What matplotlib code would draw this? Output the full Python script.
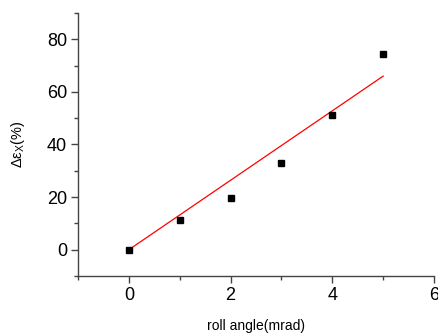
import numpy as np
import matplotlib.pyplot as plt
from matplotlib.ticker import MultipleLocator

# measured points
roll_angle = [0, 1, 2, 3, 4, 5]
delta_eps = [0.0, 11.4, 19.7, 33.0, 51.2, 74.3]

# fitted line
fit_x = [0, 5]
fit_y = [0.0, 66.0]

plt.rcParams['font.family'] = ['Liberation Sans', 'DejaVu Sans']
plt.rcParams['mathtext.fontset'] = 'custom'
plt.rcParams['mathtext.rm'] = 'Liberation Sans'
plt.rcParams['mathtext.it'] = 'Liberation Sans'

fig = plt.figure(figsize=(4.39, 3.36), dpi=100)
ax = fig.add_axes([0.1777, 0.1786, 0.8109, 0.7827])

ax.plot(fit_x, fit_y, color='red', lw=0.9)
ax.plot(roll_angle, delta_eps, 's', color='black', ms=5)

ax.set_xlim(-1, 6)
ax.set_ylim(-10, 90)
ax.xaxis.set_major_locator(MultipleLocator(2))
ax.xaxis.set_minor_locator(MultipleLocator(1))
ax.yaxis.set_major_locator(MultipleLocator(20))
ax.yaxis.set_minor_locator(MultipleLocator(10))

for s in ['top', 'right']:
    ax.spines[s].set_visible(False)
for s in ['left', 'bottom']:
    ax.spines[s].set_color('#444444')
    ax.spines[s].set_linewidth(1.0)

ax.tick_params(which='major', direction='out', length=5, width=1,
               color='#444444', labelsize=13, pad=3)
ax.tick_params(which='minor', direction='out', length=3, width=1,
               color='#444444')

ax.set_xlabel('roll angle(mrad)', fontsize=10, labelpad=11)
ax.set_ylabel(r'$\Delta\epsilon_{\rm X}$(%)', fontsize=10.5, labelpad=14)

plt.savefig('out.png', dpi=100)
